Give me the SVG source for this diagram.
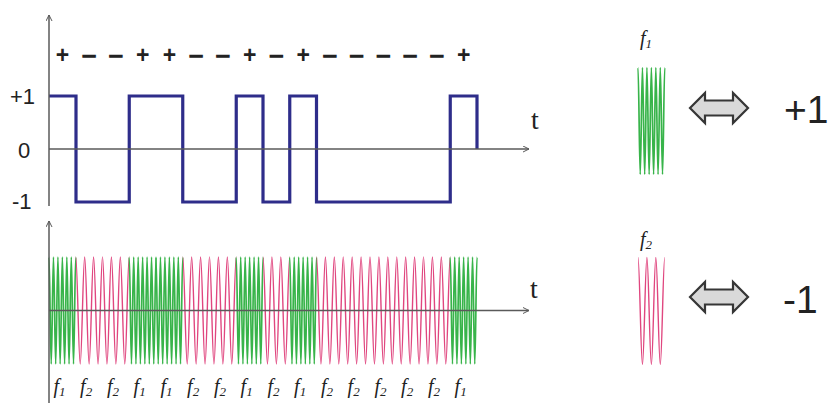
<svg xmlns="http://www.w3.org/2000/svg" width="831" height="403" viewBox="0 0 831 403">
<style>
.ax{stroke:#5a5a5a;stroke-width:1.5;fill:none}
.sq{stroke:#2e2d8a;stroke-width:3.2;fill:none;stroke-linejoin:miter}
.g{stroke:#38b44a;stroke-width:1.7;fill:none}
.p{stroke:#e0467f;stroke-width:1.4;fill:none}
.lbl{fill:#222}
.pl{font-weight:bold;font-size:23px;fill:#222;text-anchor:middle}
.mi{font-weight:bold;font-size:27px;fill:#222;text-anchor:middle}
.t{font-size:28px;fill:#222}
.f{font-style:italic;font-size:20px;fill:#222}
.big{font-size:39px;fill:#222}
.dbl{fill:#d9d9d9;stroke:#363636;stroke-width:2.2;stroke-linejoin:miter}
</style>
<defs>
<marker id="arr" markerUnits="userSpaceOnUse" markerWidth="10" markerHeight="10" refX="6" refY="3.5" orient="auto">
<path d="M0,0.5 L6,3.5 L0,6.5" fill="none" stroke="#5a5a5a" stroke-width="1"/>
</marker>
<path id="w1" class="g" d="M0,0 c0.81,0 1.42,107 2.229,107 s1.42,-107 2.229,-107 s1.42,107 2.229,107 s1.42,-107 2.229,-107 s1.42,107 2.229,107 s1.42,-107 2.229,-107 s1.42,107 2.229,107 s1.42,-107 2.229,-107 s1.42,107 2.229,107 s1.42,-107 2.229,-107 s1.42,107 2.229,107 s1.42,-107 2.229,-107"/>
<path id="w2" class="p" d="M0,0 c1.62,0 2.84,107 4.458,107 s2.84,-107 4.458,-107 s2.84,107 4.458,107 s2.84,-107 4.458,-107 s2.84,107 4.458,107 s2.84,-107 4.458,-107"/>
</defs>
<rect width="831" height="403" fill="#ffffff"/>

<g id="top-plot">
<path class="sq" d="M49,96 H76 V202 H129.25 V96 H182.75 V202 H236.25 V96 H263 V202 H289.75 V96 H316.5 V202 H450.25 V96 H477 V149"/>
<line class="ax" x1="49" y1="206" x2="49" y2="15" marker-end="url(#arr)"/>
<line class="ax" x1="49" y1="149" x2="529" y2="149" marker-end="url(#arr)"/>
<g font-family="Liberation Sans, Arial, sans-serif">
<text class="lbl" x="10" y="104" font-size="22">+1</text>
<text class="lbl" x="18" y="158" font-size="22">0</text>
<text class="lbl" x="12" y="209" font-size="22">-1</text>
</g>
<text class="t" x="531" y="129" font-family="Liberation Serif, Times New Roman, serif">t</text>
<g id="signs" font-family="Liberation Sans, Arial, sans-serif">
<text class="pl" x="62.4" y="63">+</text>
<text class="mi" x="89.1" y="64.5">−</text>
<text class="mi" x="115.9" y="64.5">−</text>
<text class="pl" x="142.6" y="63">+</text>
<text class="pl" x="169.4" y="63">+</text>
<text class="mi" x="196.1" y="64.5">−</text>
<text class="mi" x="222.9" y="64.5">−</text>
<text class="pl" x="249.6" y="63">+</text>
<text class="mi" x="276.4" y="64.5">−</text>
<text class="pl" x="303.1" y="63">+</text>
<text class="mi" x="329.9" y="64.5">−</text>
<text class="mi" x="356.6" y="64.5">−</text>
<text class="mi" x="383.4" y="64.5">−</text>
<text class="mi" x="410.1" y="64.5">−</text>
<text class="mi" x="436.9" y="64.5">−</text>
<text class="pl" x="463.6" y="63">+</text>
</g>
</g>

<g id="bottom-plot">
<use href="#w1" x="49" y="257"/>
<use href="#w2" x="75.75" y="257"/>
<use href="#w2" x="102.5" y="257"/>
<use href="#w1" x="129.25" y="257"/>
<use href="#w1" x="156" y="257"/>
<use href="#w2" x="182.75" y="257"/>
<use href="#w2" x="209.5" y="257"/>
<use href="#w1" x="236.25" y="257"/>
<use href="#w2" x="263" y="257"/>
<use href="#w1" x="289.75" y="257"/>
<use href="#w2" x="316.5" y="257"/>
<use href="#w2" x="343.25" y="257"/>
<use href="#w2" x="370" y="257"/>
<use href="#w2" x="396.75" y="257"/>
<use href="#w2" x="423.5" y="257"/>
<use href="#w1" x="450.25" y="257"/>
<line class="ax" x1="49" y1="403" x2="49" y2="221" marker-end="url(#arr)"/>
<line class="ax" x1="49" y1="310.5" x2="529" y2="310.5" marker-end="url(#arr)"/>
<text class="t" x="530" y="298" font-family="Liberation Serif, Times New Roman, serif">t</text>
<g id="freq-labels" font-family="Liberation Serif, Times New Roman, serif">
<text class="f" x="53.4" y="393">f<tspan font-size="13" dy="3">1</tspan></text>
<text class="f" x="80.1" y="393">f<tspan font-size="13" dy="3">2</tspan></text>
<text class="f" x="106.9" y="393">f<tspan font-size="13" dy="3">2</tspan></text>
<text class="f" x="133.6" y="393">f<tspan font-size="13" dy="3">1</tspan></text>
<text class="f" x="160.4" y="393">f<tspan font-size="13" dy="3">1</tspan></text>
<text class="f" x="187.1" y="393">f<tspan font-size="13" dy="3">2</tspan></text>
<text class="f" x="213.9" y="393">f<tspan font-size="13" dy="3">2</tspan></text>
<text class="f" x="240.6" y="393">f<tspan font-size="13" dy="3">1</tspan></text>
<text class="f" x="267.4" y="393">f<tspan font-size="13" dy="3">2</tspan></text>
<text class="f" x="294.1" y="393">f<tspan font-size="13" dy="3">1</tspan></text>
<text class="f" x="320.9" y="393">f<tspan font-size="13" dy="3">2</tspan></text>
<text class="f" x="347.6" y="393">f<tspan font-size="13" dy="3">2</tspan></text>
<text class="f" x="374.4" y="393">f<tspan font-size="13" dy="3">2</tspan></text>
<text class="f" x="401.1" y="393">f<tspan font-size="13" dy="3">2</tspan></text>
<text class="f" x="427.9" y="393">f<tspan font-size="13" dy="3">2</tspan></text>
<text class="f" x="454.6" y="393">f<tspan font-size="13" dy="3">1</tspan></text>
</g>
</g>

<g id="legend-f1">
<text class="f" x="640" y="45" font-family="Liberation Serif, Times New Roman, serif">f<tspan font-size="13" dy="3">1</tspan></text>
<use href="#w1" x="638" y="67.5"/>
<path class="dbl" d="M690,108 L705,93 L705,100.5 L733,100.5 L733,93 L748,108 L733,123 L733,115.5 L705,115.5 L705,123 Z"/>
<text class="big" x="784" y="123" font-family="Liberation Sans, Arial, sans-serif">+1</text>
</g>

<g id="legend-f2">
<text class="f" x="640" y="246" font-family="Liberation Serif, Times New Roman, serif">f<tspan font-size="13" dy="3">2</tspan></text>
<use href="#w2" x="638" y="257.5"/>
<path class="dbl" d="M690,297 L705,282 L705,289.5 L733,289.5 L733,282 L748,297 L733,312 L733,304.5 L705,304.5 L705,312 Z"/>
<text class="big" x="783" y="313" font-family="Liberation Sans, Arial, sans-serif">-1</text>
</g>
</svg>
